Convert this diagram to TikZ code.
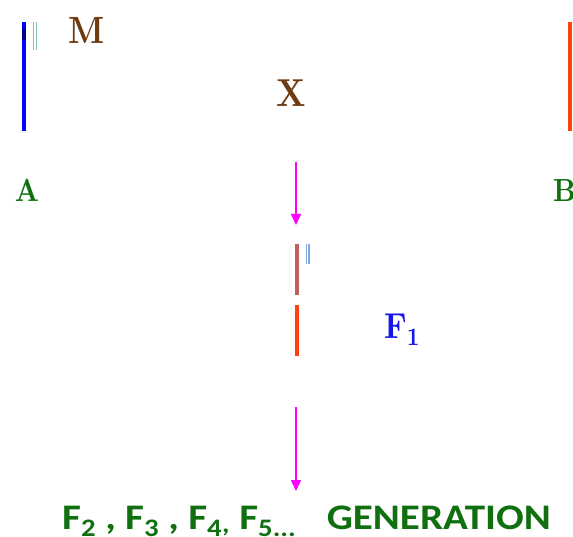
\documentclass[tikz,border=0pt]{standalone}
\usepackage{fontspec}
\newfontfamily\carl[FakeStretch=1.14]{Carlito}
\newfontfamily\lmser[FakeStretch=0.87]{lmroman10-bold.otf}
\usetikzlibrary{arrows.meta}
\definecolor{brn}{RGB}{110,58,16}
\definecolor{grn}{RGB}{16,112,16}
\definecolor{fblue}{RGB}{20,20,235}
\definecolor{lblue}{RGB}{0,0,255}
\definecolor{ored}{RGB}{255,64,16}
\definecolor{pred}{RGB}{192,96,96}
\definecolor{pblue}{RGB}{128,168,216}
\definecolor{pgreen}{RGB}{128,200,160}
\definecolor{mag}{RGB}{255,0,255}
\tikzset{
  serif/.style={inner sep=0pt, font=\lmser\fontsize{#1}{#1}\selectfont},
  serif/.default=38,
  chrom/.style={line width=4pt},
  dchrom/.style={draw=#1, line width=1.2pt, double=white, double distance=1.6pt},
  cross/.style={draw=mag, line width=1.5pt, -{Triangle[width=10pt,length=11pt]}},
  sans/.style={inner sep=0pt, text=grn, font=\carl\fontsize{36}{40}\selectfont\bfseries},
}
\begin{document}
\begin{tikzpicture}[x=1pt,y=-1pt]
\useasboundingbox[fill=white] (0,0) rectangle (573,537);
% parent A
\coordinate (a1) at (24,22); \coordinate (a2) at (24,131);
\draw[chrom, lblue] (a1) -- (a2);
\coordinate (d1) at (24,29); \coordinate (d2) at (24,40);
\draw[line width=4pt, lblue!55!black] (d1) -- (d2);
\coordinate (g1) at (35,22); \coordinate (g2) at (35,50);
\draw[dchrom=pgreen] (g1) -- (g2);
\node[serif=38, text=brn, anchor=base] (M) at (87,44) {M};
\node[serif=39, text=brn, anchor=base] (X) at (291,107) {X};
\node[serif=32, text=grn, anchor=base] (A) at (27,202) {A};
\node[serif=32, text=grn, anchor=base west] (B) at (553,202) {B};
% parent B
\coordinate (b1) at (570,22); \coordinate (b2) at (570,131);
\draw[chrom, ored] (b1) -- (b2);
% cross arrow 1
\coordinate (c1) at (296,162); \coordinate (c2) at (296,225);
\draw[cross] (c1) -- (c2);
% F1
\coordinate (f1) at (297,244); \coordinate (f2) at (297,295);
\draw[chrom, pred] (f1) -- (f2);
\coordinate (h1) at (307.5,244); \coordinate (h2) at (307.5,264);
\draw[dchrom=pblue] (h1) -- (h2);
\coordinate (r1) at (297,305); \coordinate (r2) at (297,356);
\draw[chrom, ored] (r1) -- (r2);
\node[serif=36, text=fblue, anchor=base west] (F1) at (384,338) {F\textsubscript{1}};
% arrow 2
\coordinate (e1) at (296,407); \coordinate (e2) at (296,491);
\draw[cross] (e1) -- (e2);
% bottom
\node[sans, anchor=base west] (FL) at (62,529) {F\textsubscript{2} , F\textsubscript{3} , F\textsubscript{4}\textsubscript{,} F\textsubscript{5...}};
\node[sans, anchor=base east] (GEN) at (551,529) {GENERATION};
\end{tikzpicture}
\end{document}
